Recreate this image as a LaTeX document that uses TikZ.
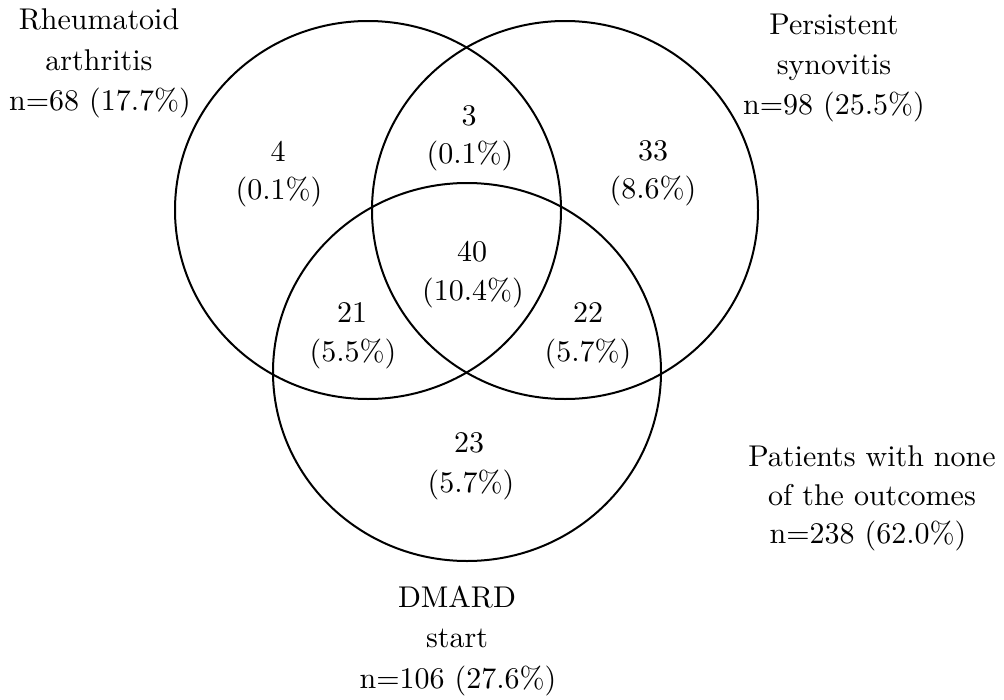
\documentclass[tikz,border=0pt]{standalone}
\usepackage{fontspec}
\setmainfont{lmroman10-regular}[Extension=.otf]
\begin{document}
\begin{tikzpicture}[x=1pt,y=-1pt,
  lbl/.style={anchor=base,inner sep=0pt,font=\fontsize{30}{36}\selectfont},
  ring/.style={line width=2pt,draw=black}]
\useasboundingbox (0,0) rectangle (1004,699);
% circles
\draw[ring] (368,210) ellipse [x radius=193pt, y radius=189pt];
\draw[ring] (565,210) ellipse [x radius=193pt, y radius=189pt];
\draw[ring] (467,372) ellipse [x radius=194pt, y radius=189pt];
% outer labels
\node[lbl] (ra1) at (99,29) {Rheumatoid};
\node[lbl] (ra2) at (99,70) {arthritis};
\node[lbl] (ra3) at (100,110) {n=68 (17.7\%)};
\node[lbl] (ps1) at (834,34) {Persistent};
\node[lbl] (ps2) at (834,74) {synovitis};
\node[lbl] (ps3) at (834,114) {n=98 (25.5\%)};
\node[lbl] (dm1) at (457,607) {DMARD};
\node[lbl] (dm2) at (457,647) {start};
\node[lbl] (dm3) at (458,688) {n=106 (27.6\%)};
\node[lbl] (no1) at (872,466) {Patients with none};
\node[lbl] (no2) at (872,505) {of the outcomes};
\node[lbl] (no3) at (868,543) {n=238 (62.0\%)};
% region counts
\node[lbl] (a1) at (278,161) {4};
\node[lbl] (a2) at (279,199) {(0.1\%)};
\node[lbl] (b1) at (469,125) {3};
\node[lbl] (b2) at (470,163) {(0.1\%)};
\node[lbl] (c1) at (653,160) {33};
\node[lbl] (c2) at (653,198) {(8.6\%)};
\node[lbl] (d1) at (472,261) {40};
\node[lbl] (d2) at (473,300) {(10.4\%)};
\node[lbl] (e1) at (352,322) {21};
\node[lbl] (e2) at (353,361) {(5.5\%)};
\node[lbl] (f1) at (588,322) {22};
\node[lbl] (f2) at (588,361) {(5.7\%)};
\node[lbl] (g1) at (469,452) {23};
\node[lbl] (g2) at (471,492) {(5.7\%)};
\end{tikzpicture}
\end{document}
